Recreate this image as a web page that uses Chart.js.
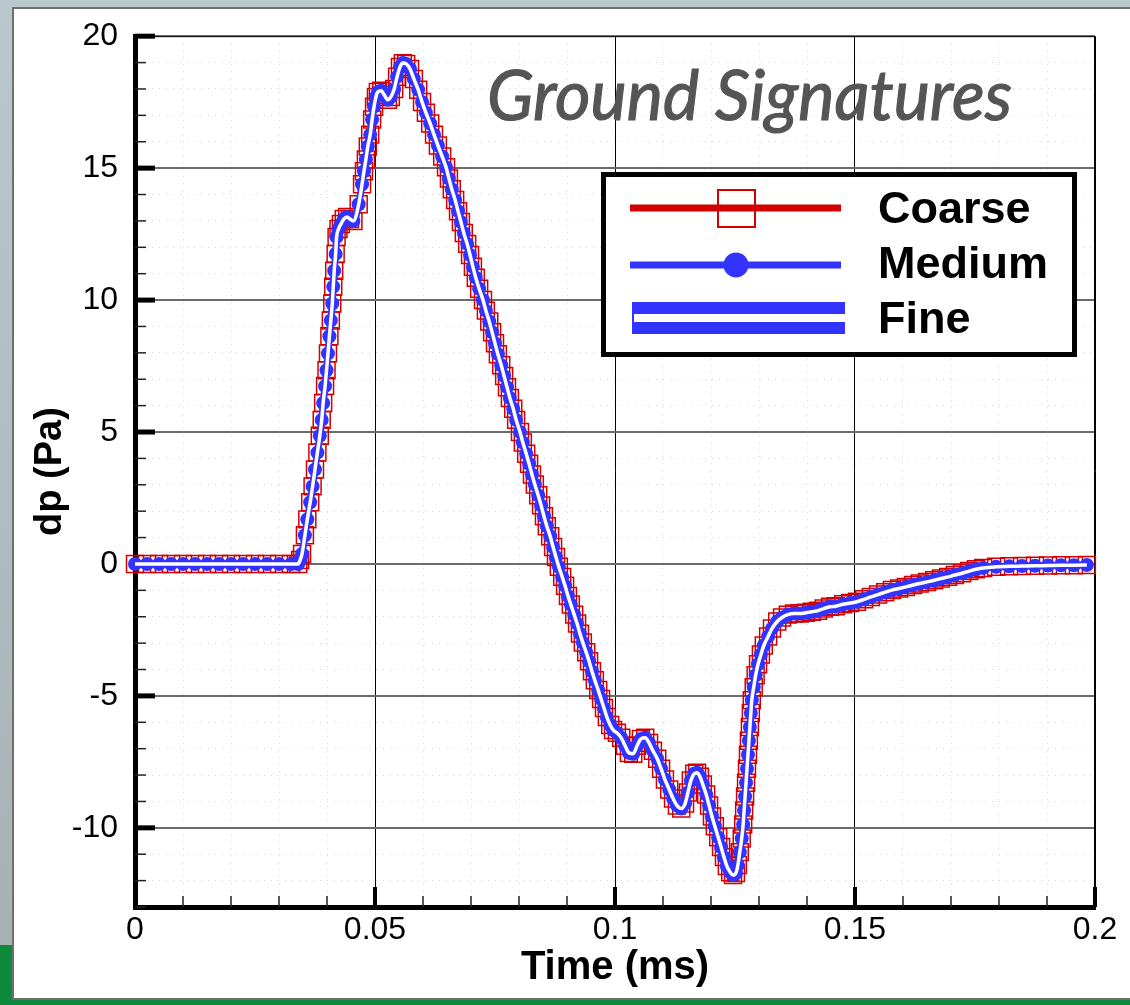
<!DOCTYPE html>
<html>
<head>
<meta charset="utf-8">
<title>Ground Signatures</title>
<script src="https://cdn.jsdelivr.net/npm/chart.js@4.4.0/dist/chart.umd.min.js"></script>
<style>
  html, body { margin: 0; padding: 0; }
  body {
    width: 1130px; height: 1005px; position: relative; overflow: hidden;
    background: linear-gradient(#b9c8cc, #a7b0b3);
  }
  #green { position: absolute; left: 0; top: 945px; width: 1130px; height: 60px; background: #0d8a3b; }
  #panel {
    position: absolute; left: 12px; top: 7px; width: 1130px; height: 993px;
    background: #fff; border: 2px solid #6f6f6f; box-sizing: border-box;
  }
  #chart { position: absolute; left: 0; top: 0; }
</style>
</head>
<body>
<div id="green"></div>
<div id="panel"></div>
<canvas id="chart" width="1130" height="1005"></canvas>
<script>
// values (time in ms, dp in Pa)
// the three grids lie on top of each other at this scale, so they share one curve
const timeMs = [
  0, 0.0025, 0.005, 0.0075, 0.01, 0.0125, 0.015, 0.0175, 0.02, 0.0225, 0.025, 0.0275, 0.03, 0.0325,
  0.0340, 0.0344, 0.0348, 0.0354, 0.0359, 0.0365, 0.0370, 0.0375, 0.0380, 0.0385, 0.0389, 0.0392,
  0.0396, 0.0399, 0.0402, 0.0405, 0.0408, 0.0411, 0.0413, 0.0415, 0.0418, 0.0420, 0.0424, 0.0429,
  0.0435, 0.0442, 0.0448, 0.0455, 0.0466, 0.0473, 0.0477, 0.0481, 0.0485, 0.0490, 0.0494, 0.0498,
  0.0502, 0.0506, 0.0513, 0.0519, 0.0527, 0.0533, 0.0540, 0.0546, 0.0552, 0.0558, 0.0565, 0.0573,
  0.0581, 0.0590, 0.0598, 0.0606, 0.0615, 0.0623, 0.0631, 0.0640, 0.0648, 0.0654, 0.0660, 0.0667,
  0.0673, 0.0679, 0.0685, 0.0692, 0.0698, 0.0704, 0.0710, 0.0717, 0.0725, 0.0731, 0.0738, 0.0744,
  0.0750, 0.0756, 0.0763, 0.0769, 0.0775, 0.0781, 0.0788, 0.0794, 0.0802, 0.0808, 0.0815, 0.0821,
  0.0827, 0.0833, 0.0840, 0.0846, 0.0852, 0.0858, 0.0865, 0.0871, 0.0877, 0.0883, 0.0890, 0.0896,
  0.0902, 0.0908, 0.0915, 0.0921, 0.0927, 0.0933, 0.0940, 0.0946, 0.0952, 0.0958, 0.0965, 0.0971,
  0.0977, 0.0983, 0.0990, 0.0996, 0.1004, 0.1013, 0.1021, 0.1029, 0.1038, 0.1046, 0.1054, 0.1063,
  0.1071, 0.1079, 0.1088, 0.1096, 0.1104, 0.1113, 0.1121, 0.1129, 0.1138, 0.1146, 0.1152, 0.1158,
  0.1165, 0.1171, 0.1177, 0.1183, 0.1190, 0.1196, 0.1202, 0.1208, 0.1215, 0.1221, 0.1227, 0.1233,
  0.1240, 0.1246, 0.1252, 0.1256, 0.1260, 0.1264, 0.1267, 0.1269, 0.1271, 0.1273, 0.1275, 0.1277,
  0.1279, 0.1281, 0.1283, 0.1285, 0.1289, 0.1293, 0.1298, 0.1304, 0.1310, 0.1319, 0.1327, 0.1338,
  0.1348, 0.1360, 0.1373, 0.1385, 0.1398, 0.1410, 0.1423, 0.1435, 0.1448, 0.1460, 0.1475, 0.1490,
  0.1504, 0.1519, 0.1533, 0.1548, 0.1563, 0.1577, 0.1592, 0.1606, 0.1621, 0.1635, 0.1650, 0.1665,
  0.1679, 0.1694, 0.1708, 0.1723, 0.1738, 0.1752, 0.1767, 0.1794, 0.1821, 0.1848, 0.1875, 0.1902,
  0.1929, 0.1956, 0.1983
];
const dpPa = [
  0, 0, 0, 0, 0, 0, 0, 0, 0, 0, 0, 0, 0, 0,
  0, 0.15, 0.38, 1.09, 1.69, 2.34, 2.94, 3.58, 4.22, 4.86, 5.46, 6.10,
  6.74, 7.34, 7.98, 8.63, 9.23, 9.87, 10.51, 11.11, 11.75, 12.39, 12.69, 12.88,
  13.07, 13.15, 13.07, 13.00, 13.63, 14.39, 14.88, 15.33, 15.82, 16.27, 16.84, 17.33,
  17.70, 17.89, 17.93, 17.78, 17.59, 17.70, 18.00, 18.46, 18.83, 18.98, 18.95, 18.76,
  18.38, 17.97, 17.51, 17.10, 16.69, 16.27, 15.86, 15.44, 15.03, 14.61, 14.20, 13.79,
  13.37, 12.96, 12.54, 12.13, 11.71, 11.26, 10.85, 10.43, 10.00, 9.60, 9.19, 8.78,
  8.36, 7.95, 7.53, 7.12, 6.70, 6.29, 5.88, 5.46, 5.00, 4.60, 4.18, 3.80,
  3.39, 3.01, 2.60, 2.22, 1.81, 1.43, 1.05, 0.64, 0.26, -0.11, -0.49, -0.83,
  -1.21, -1.54, -1.92, -2.26, -2.64, -2.98, -3.35, -3.69, -4.07, -4.41, -4.78, -5.12,
  -5.46, -5.80, -6.10, -6.29, -6.40, -6.59, -6.89, -7.16, -7.19, -6.89, -6.63, -6.59,
  -6.78, -7.08, -7.38, -7.76, -8.17, -8.55, -8.89, -9.15, -9.27, -9.08, -8.66, -8.21,
  -7.95, -7.91, -8.06, -8.36, -8.74, -9.15, -9.57, -9.94, -10.36, -10.73, -11.11, -11.45,
  -11.68, -11.79, -11.71, -11.41, -10.92, -10.40, -9.87, -9.34, -8.81, -8.29, -7.76, -7.23,
  -6.70, -6.18, -5.65, -5.16, -4.67, -4.22, -3.80, -3.43, -3.09, -2.75, -2.45, -2.18,
  -2.03, -1.92, -1.88, -1.88, -1.85, -1.81, -1.77, -1.69, -1.62, -1.60, -1.53, -1.48,
  -1.43, -1.34, -1.25, -1.16, -1.07, -0.99, -0.93, -0.87, -0.80, -0.74, -0.68, -0.62,
  -0.55, -0.49, -0.42, -0.35, -0.27, -0.20, -0.15, -0.11, -0.09, -0.08, -0.07, -0.06,
  -0.05, -0.05, -0.04
];
const seriesNames = ['Coarse', 'Medium', 'Fine'];
const xTickLabels = ['0', '0.05', '0.1', '0.15', '0.2'];
const yTickLabels = ['-10', '-5', '0', '5', '10', '15', '20'];

const RED = '#d40000';
const BLUE = '#3333ff';
const FONT = "'Liberation Sans', Arial, sans-serif";

document.addEventListener("DOMContentLoaded", function () {

  const points = timeMs.map((t, i) => ({ x: t, y: dpPa[i] }));
  const fmtX = v => String(Math.round(v * 100) / 100);
  const isMajorX = v => xTickLabels.includes(fmtX(v));
  const isMajorY = v => yTickLabels.includes(String(Math.round(v)));

  // inward tick marks, thin top/right frame, title and boxed legend
  const decorations = {
    id: 'decorations',
    beforeDatasetsDraw(chart) {
      const c = chart.ctx, a = chart.chartArea;
      const xs = chart.scales.x, ys = chart.scales.y;
      c.save();
      c.strokeStyle = '#000';
      c.lineWidth = 1;
      c.beginPath();
      c.moveTo(a.left, a.top + 0.5); c.lineTo(a.right, a.top + 0.5);
      c.moveTo(a.right - 0.5, a.top); c.lineTo(a.right - 0.5, a.bottom);
      c.stroke();
      ys.ticks.forEach(t => {
        const py = ys.getPixelForValue(t.value);
        const major = isMajorY(t.value);
        c.lineWidth = major ? 5 : 1.5;
        c.strokeStyle = major ? '#000' : '#222';
        c.beginPath();
        c.moveTo(a.left, py); c.lineTo(a.left + (major ? 20 : 11), py);
        c.stroke();
      });
      xs.ticks.forEach(t => {
        const px = xs.getPixelForValue(t.value);
        const major = isMajorX(t.value);
        c.lineWidth = major ? 4 : 1.5;
        c.strokeStyle = major ? '#000' : '#222';
        c.beginPath();
        c.moveTo(px, a.bottom); c.lineTo(px, a.bottom - (major ? 20 : 11));
        c.stroke();
      });
      c.restore();
    },
    afterDraw(chart) {
      const c = chart.ctx;
      c.save();
      // title
      c.font = "italic 70px Lato, 'Open Sans', sans-serif";
      c.fillStyle = '#555555';
      c.strokeStyle = '#555555';
      c.lineWidth = 1.2;
      c.textBaseline = 'alphabetic';
      const w = c.measureText('Ground Signatures').width;
      c.translate(487, 120);
      c.scale(525 / w, 1);
      c.fillText('Ground Signatures', 0, 0);
      c.strokeText('Ground Signatures', 0, 0);
      c.restore();

      // legend box
      c.save();
      c.fillStyle = '#fff';
      c.fillRect(601, 172, 476, 185);
      c.strokeStyle = '#000';
      c.lineWidth = 5;
      c.strokeRect(603.5, 174.5, 471, 180);

      c.lineCap = 'butt';
      // Coarse
      c.strokeStyle = RED; c.lineWidth = 7;
      c.beginPath(); c.moveTo(630, 208); c.lineTo(841, 208); c.stroke();
      c.lineWidth = 2;
      c.strokeRect(718, 190, 37, 37);
      // Medium
      c.strokeStyle = BLUE; c.lineWidth = 7;
      c.beginPath(); c.moveTo(630, 265); c.lineTo(841, 265); c.stroke();
      c.fillStyle = BLUE;
      c.beginPath(); c.arc(736, 265, 12.5, 0, Math.PI * 2); c.fill();
      // Fine
      c.fillStyle = BLUE;
      c.fillRect(632, 302, 213, 32);
      c.fillStyle = '#fff';
      c.fillRect(634, 314, 211, 8);

      c.fillStyle = '#000';
      c.font = 'bold 45px ' + FONT;
      c.textBaseline = 'alphabetic';
      c.fillText(seriesNames[0], 878, 223);
      c.fillText(seriesNames[1], 878, 278);
      c.fillText(seriesNames[2], 878, 333);
      c.restore();
    }
  };

  const ctx = document.getElementById('chart').getContext('2d');
  new Chart(ctx, {
    type: 'line',
    data: {
      datasets: [
        {
          label: seriesNames[0], data: points, order: 4,
          borderColor: RED, borderWidth: 2,
          pointStyle: 'rect', pointRadius: 12, pointBorderWidth: 1.5,
          pointBorderColor: RED, pointBackgroundColor: 'rgba(0,0,0,0)',
          clip: false
        },
        {
          label: seriesNames[1], data: points, order: 3,
          borderColor: BLUE, borderWidth: 3,
          pointStyle: 'circle', pointRadius: 7, pointBorderWidth: 0,
          pointBackgroundColor: BLUE, clip: false
        },
        {
          label: seriesNames[2], data: points, order: 2,
          borderColor: BLUE, borderWidth: 7, pointRadius: 0,
          cubicInterpolationMode: 'monotone', clip: false
        },
        {
          label: seriesNames[2] + ' core', data: points, order: 1,
          borderColor: '#ffffff', borderWidth: 3.5, pointRadius: 0,
          cubicInterpolationMode: 'monotone', clip: false
        }
      ]
    },
    options: {
      responsive: false,
      animation: false,
      devicePixelRatio: 1,
      layout: { padding: { left: 0, top: 31, right: 35, bottom: 0 } },
      plugins: { legend: { display: false }, tooltip: { enabled: false } },
      scales: {
        x: {
          type: 'linear', min: 0, max: 0.2,
          afterFit: s => { s.height = 98; },
          ticks: {
            stepSize: 0.01, autoSkip: false, maxRotation: 0, padding: 4,
            color: '#000', font: { family: FONT, size: 32 },
            callback: v => isMajorX(v) ? fmtX(v) : ''
          },
          grid: {
            drawTicks: false,
            color: c => isMajorX(c.tick.value) ? '#000' : 'rgba(0,0,0,0.16)',
            lineWidth: 1
          },
          border: {
            display: true, color: '#000', width: 5,
            dash: c => (c.tick && !isMajorX(c.tick.value)) ? [1, 6] : []
          },
          title: {
            display: true, text: 'Time (ms)', color: '#000',
            font: { family: FONT, size: 40, weight: 'bold' },
            padding: { top: 0, bottom: 13 }
          }
        },
        y: {
          type: 'linear', min: -13, max: 20,
          afterFit: s => { s.width = 135; },
          ticks: {
            stepSize: 1, autoSkip: false, padding: 17,
            color: '#000', font: { family: FONT, size: 32 },
            callback: v => isMajorY(v) ? String(Math.round(v)) : ''
          },
          grid: {
            drawTicks: false,
            color: c => isMajorY(c.tick.value) ? '#6b6b6b' : 'rgba(0,0,0,0.16)',
            lineWidth: c => isMajorY(c.tick.value) ? 2 : 1
          },
          border: {
            display: true, color: '#000', width: 5,
            dash: c => (c.tick && !isMajorY(c.tick.value)) ? [1, 6] : []
          },
          title: {
            display: true, text: 'dp (Pa)', color: '#000',
            font: { family: FONT, size: 38, weight: 'bold' },
            padding: { top: 28, bottom: 0 }
          }
        }
      }
    },
    plugins: [decorations]
  });
});
</script>
</body>
</html>
